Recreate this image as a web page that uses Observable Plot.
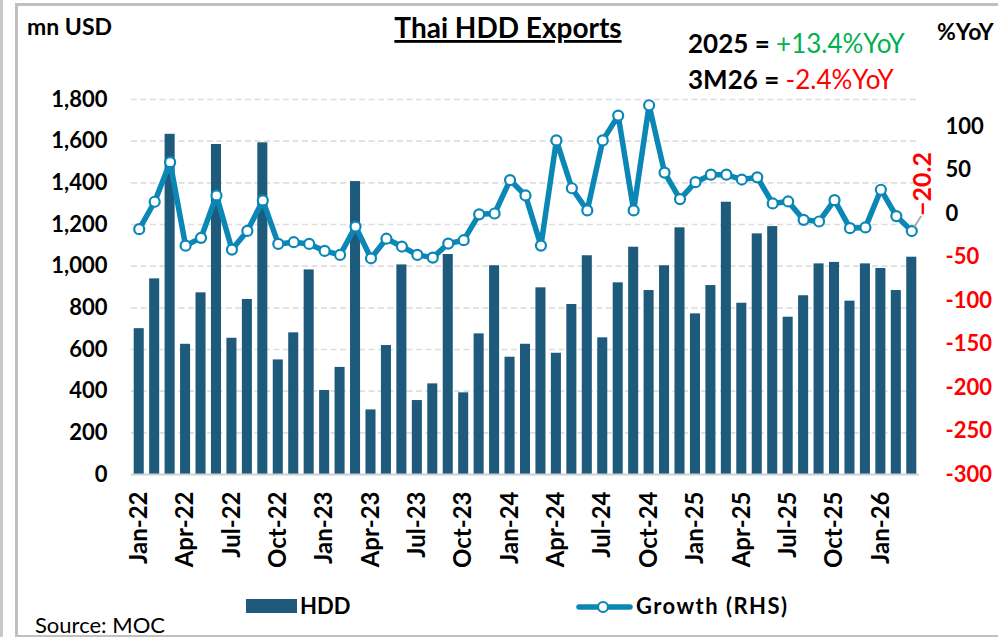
<!DOCTYPE html>
<html>
<head>
<meta charset="utf-8">
<script src="https://cdn.jsdelivr.net/npm/d3@7"></script>
<script src="https://cdn.jsdelivr.net/npm/@observablehq/plot@0.6"></script>
<style>
  html, body { margin: 0; padding: 0; background: #fff; }
  #wrap { position: relative; width: 998px; height: 637px; overflow: hidden; background: #fff; font-family: Lato, "Open Sans", sans-serif; }
  #wrap > svg { position: absolute; left: 0; top: 0; }
  #overlay { pointer-events: none; }
</style>
</head>
<body>
<div id="wrap"></div>
<script>
// ---------- data ----------
const monthNames = ["Jan","Feb","Mar","Apr","May","Jun","Jul","Aug","Sep","Oct","Nov","Dec"];
const years = ["22","23","24","25","26"];
const months = [];
for (const y of years) for (const m of monthNames) { if (months.length < 51) months.push(m + "-" + y); }

// HDD exports, mn USD (left axis)
const hdd = [
  700, 939, 1633, 625, 872, 1584, 654, 840, 1592, 550, 680, 982,
  403, 514, 1406, 310, 619, 1006, 355, 435, 1056, 392, 675, 1002,
  563, 625, 896, 582, 816, 1050, 656, 920, 1091, 883, 1002, 1184,
  771, 907, 1307, 822, 1155, 1190, 755, 858, 1011, 1018, 832, 1011,
  989, 883, 1043
];
// Growth, %YoY (right axis)
const growth = [
  -18, 13.5, 59, -37, -28, 20.7, -41.5, -20, 15, -35, -33, -35,
  -43, -47.6, -15, -51.5, -29, -38, -47.6, -50.7, -34.6, -30.7, -1, 0,
  38.4, 20.7, -36.9, 84, 29, 3.5, 84, 112.5, 3.5, 124.4, 47, 16.5,
  36, 44.6, 44.6, 39, 41.5, 11.5, 13.8, -7.3, -9.2, 15.3, -16.9, -16,
  27.3, -3, -20.2
];
const leftTicks = [0, 200, 400, 600, 800, 1000, 1200, 1400, 1600, 1800];
const rightTicks = [100, 50, 0, -50, -100, -150, -200, -250, -300];
const xTickLabels = months.filter((d, i) => i % 3 === 0);

// ---------- scales mapping ----------
const leftDomain = [0, 1800];
const rightDomain = [-300, 131];
const toLeft = v => (v - rightDomain[0]) / (rightDomain[1] - rightDomain[0]) * (leftDomain[1] - leftDomain[0]) + leftDomain[0];

const table = months.map((m, i) => ({month: m, hdd: hdd[i], g: growth[i]}));
const last = table[table.length - 1];

const barColor = "#1e5a7c";
const lineColor = "#0b87b5";
const font = "Lato, 'Open Sans', sans-serif";

const chart = Plot.plot({
  width: 998,
  height: 637,
  marginLeft: 131,
  marginRight: 79,
  marginTop: 99,
  marginBottom: 163,
  style: {fontFamily: font, color: "#000", background: "transparent", overflow: "visible"},
  x: {type: "band", domain: months, paddingInner: 0.35, paddingOuter: 0.175, align: 0.5, round: false},
  y: {domain: leftDomain},
  marks: [
    Plot.ruleY(leftTicks.filter(d => d > 0), {stroke: "#dedede", strokeWidth: 1.6, strokeDasharray: "6,3.5"}),
    Plot.barY(table, {x: "month", y: "hdd", fill: barColor}),
    Plot.ruleY([0], {stroke: "#d0d0d0", strokeWidth: 2}),
    Plot.line(table, {x: "month", y: d => toLeft(d.g), stroke: lineColor, strokeWidth: 5.5, strokeLinejoin: "round", strokeLinecap: "round"}),
    Plot.dot(table, {x: "month", y: d => toLeft(d.g), r: 5, fill: "#fff", stroke: lineColor, strokeWidth: 2.2}),
    Plot.vector([last], {
      x: "month", y: d => toLeft(d.g), length: 17, rotate: 32, anchor: "start",
      stroke: "#a6a6a6", strokeWidth: 1.8,
      shape: {draw(ctx, l) { ctx.moveTo(0, -6); ctx.lineTo(0, -l); }}
    }),
    Plot.text([last], {
      x: "month", y: d => toLeft(d.g), text: d => d3.format(".1f")(d.g),
      rotate: -90, dx: 11, dy: -47, fill: "#ff0000", fontWeight: "bold", fontSize: 25
    }),
    Plot.axisY({anchor: "left", ticks: leftTicks, tickFormat: d3.format(","), tickSize: 0, tickPadding: 24, fontSize: 22, fontWeight: "bold", label: null}),
    Plot.text(rightTicks, {
      y: d => toLeft(d), text: d => String(d), frameAnchor: "right", dx: 26, textAnchor: "start",
      fill: d => d < 0 ? "#ff0000" : "#000", fontWeight: "bold", fontSize: 22
    }),
    Plot.axisX({ticks: xTickLabels, tickRotate: -90, tickSize: 0, tickPadding: 17, fontSize: 24, fontWeight: "bold", label: null})
  ]
});

const wrap = document.getElementById("wrap");
wrap.appendChild(chart);

// ---------- overlay: frame, titles, legend, source ----------
const ov = d3.select(wrap).append("svg").attr("id", "overlay")
  .attr("width", 998).attr("height", 637)
  .style("font-family", font);

ov.append("rect").attr("x", 0).attr("y", 0).attr("width", 3).attr("height", 637).attr("fill", "#c8c8c8");
ov.append("rect").attr("x", 15).attr("y", 3).attr("width", 3).attr("height", 634).attr("fill", "#c0c0c0");
ov.append("rect").attr("x", 15).attr("y", 3).attr("width", 983).attr("height", 3).attr("fill", "#c0c0c0");
ov.append("rect").attr("x", 15).attr("y", 635).attr("width", 983).attr("height", 2).attr("fill", "#c0c0c0");

ov.append("text").attr("x", 27).attr("y", 35).attr("font-size", 23).attr("font-weight", "bold").text("mn USD");
ov.append("text").attr("x", 937).attr("y", 40).attr("font-size", 23).attr("font-weight", "bold").text("%YoY");

ov.append("text").attr("x", 508).attr("y", 38).attr("text-anchor", "middle").attr("font-size", 28)
  .attr("font-weight", "bold").style("text-decoration", "underline").text("Thai HDD Exports");

const a1 = ov.append("text").attr("x", 688).attr("y", 53).attr("font-size", 26);
a1.append("tspan").attr("font-weight", "bold").attr("fill", "#000").text("2025 = ");
a1.append("tspan").attr("fill", "#00b050").text("+13.4%YoY");
const a2 = ov.append("text").attr("x", 688).attr("y", 89).attr("font-size", 26);
a2.append("tspan").attr("font-weight", "bold").attr("fill", "#000").text("3M26 = ");
a2.append("tspan").attr("fill", "#ff0000").text("-2.4%YoY");

// legend
ov.append("rect").attr("x", 246).attr("y", 599).attr("width", 51).attr("height", 14).attr("fill", barColor);
ov.append("text").attr("x", 300).attr("y", 614).attr("font-size", 22).attr("font-weight", "bold").text("HDD");
ov.append("line").attr("x1", 579).attr("x2", 630).attr("y1", 607).attr("y2", 607)
  .attr("stroke", lineColor).attr("stroke-width", 5.5).attr("stroke-linecap", "round");
ov.append("circle").attr("cx", 603).attr("cy", 607).attr("r", 5).attr("fill", "#fff").attr("stroke", lineColor).attr("stroke-width", 2.2);
ov.append("text").attr("x", 636).attr("y", 614).attr("font-size", 22).attr("font-weight", "bold")
  .attr("textLength", 151).attr("lengthAdjust", "spacing").text("Growth (RHS)");

ov.append("text").attr("x", 35).attr("y", 633).attr("font-size", 22).text("Source: MOC");
</script>
</body>
</html>
